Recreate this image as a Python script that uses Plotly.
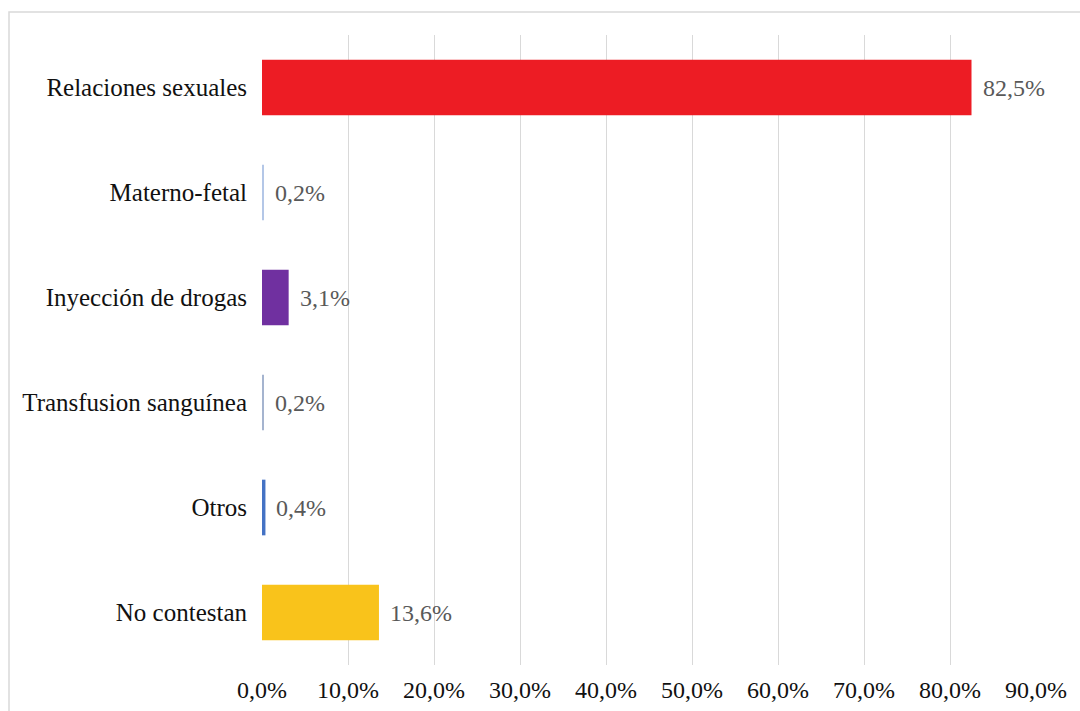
import plotly.graph_objects as go

# Vías de transmisión (porcentaje de respuestas)
categorias = [
    "Relaciones sexuales",
    "Materno-fetal",
    "Inyección de drogas",
    "Transfusion sanguínea",
    "Otros",
    "No contestan",
]
porcentajes = [82.5, 0.2, 3.1, 0.2, 0.4, 13.6]
colores = ["#ED1C24", "#B4C7E7", "#7030A0", "#A5B4CF", "#4472C4", "#F9C31B"]
ticks_x = [0, 10, 20, 30, 40, 50, 60, 70, 80, 90]


def fmt_pct(v):
    return f"{v:.1f}%".replace(".", ",")


FUENTE = "Liberation Serif, Times New Roman, DejaVu Serif, serif"
W, H = 1080, 711
M_L, M_R, M_T, M_B = 262, 44, 35, 46
pw, ph = W - M_L - M_R, H - M_T - M_B

fig = go.Figure()
fig.add_trace(go.Bar(
    y=categorias,
    x=porcentajes,
    orientation="h",
    marker=dict(color=colores, line=dict(width=0)),
    hoverinfo="skip",
))

# Etiquetas de valor a la derecha de cada barra
for cat, val in zip(categorias, porcentajes):
    fig.add_annotation(
        x=val, y=cat, xref="x", yref="y",
        text=fmt_pct(val),
        showarrow=False, xanchor="left", xshift=9,
        font=dict(family=FUENTE, size=24, color="#595959"),
    )

# Marco exterior del gráfico
fig.add_shape(
    type="rect", xref="paper", yref="paper",
    x0=(9 - M_L) / pw, x1=(W + 5 - M_L) / pw,
    y0=-(H + 5 - (M_T + ph)) / ph, y1=1 + (M_T - 12) / ph,
    line=dict(color="#D9D9D9", width=1.5), fillcolor="rgba(0,0,0,0)",
    layer="below",
)

fig.update_layout(
    width=W, height=H,
    margin=dict(l=M_L, r=M_R, t=M_T, b=M_B),
    paper_bgcolor="white", plot_bgcolor="white",
    showlegend=False,
    bargap=0.47,
    font=dict(family=FUENTE, size=24, color="#111111"),
    xaxis=dict(
        range=[0, 90],
        tickvals=ticks_x,
        ticktext=[fmt_pct(t) for t in ticks_x],
        showgrid=True, gridcolor="#D9D9D9", gridwidth=1.3,
        zeroline=False, showline=False, ticks="",
        ticklabelstandoff=8,
        automargin=False,
        tickfont=dict(family=FUENTE, size=24, color="#111111"),
        fixedrange=True,
    ),
    yaxis=dict(
        categoryorder="array", categoryarray=categorias[::-1],
        showgrid=False, zeroline=False, showline=False, ticks="",
        ticklabelstandoff=14,
        automargin=False,
        tickfont=dict(family=FUENTE, size=25, color="#111111"),
        fixedrange=True,
    ),
)

fig.write_html("out.html")
